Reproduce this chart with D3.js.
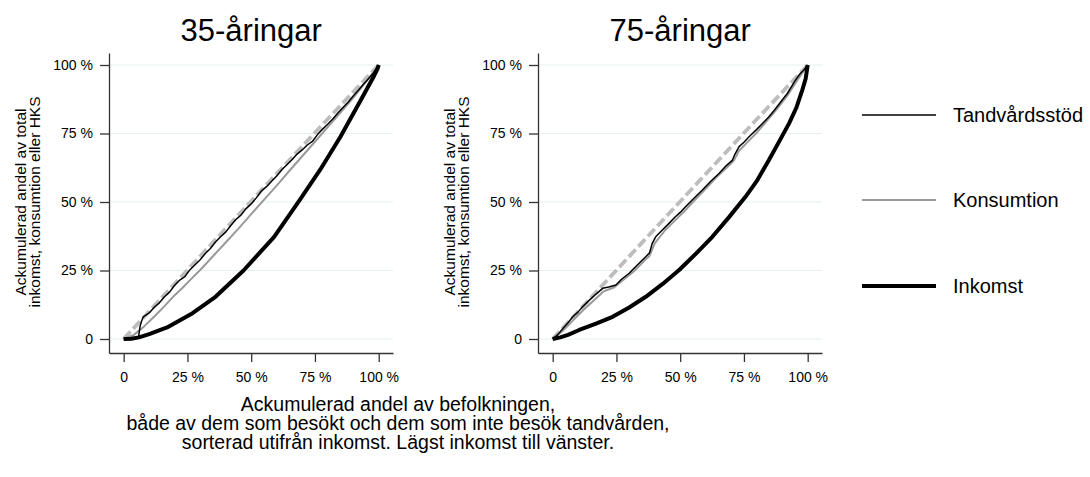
<!DOCTYPE html>
<html>
<head>
<meta charset="utf-8">
<script src="https://cdn.jsdelivr.net/npm/d3@7"></script>
<style>
  body { margin: 0; background: #fff; }
  svg { display: block; font-family: "Liberation Sans", Arial, sans-serif; }
</style>
</head>
<body>
<svg id="chart" width="1090" height="477"></svg>
<script>
// Lorenz-type curves: cumulative share of population (x, %) vs cumulative share (y, %)
const panelTitles = ["35-åringar", "75-åringar"];
const tickValues = [0, 25, 50, 75, 100];
const tickLabels = ["0", "25 %", "50 %", "75 %", "100 %"];
const legendLabels = ["Tandvårdsstöd", "Konsumtion", "Inkomst"];
const yTitleLines = ["Ackumulerad andel av total", "inkomst, konsumtion eller HKS"];
const xTitleLines = [
  "Ackumulerad andel av befolkningen,",
  "både av dem som besökt och dem som inte besök tandvården,",
  "sorterad utifrån inkomst. Lägst inkomst till vänster."
];

// HKS (dashed)
const hksX35 = [0, 25, 50, 75, 100];
const hksY35 = [0, 25.2, 50.3, 75.3, 100];
const hksX75 = [0, 25, 50, 75, 100];
const hksY75 = [0, 25.1, 50.2, 75.2, 100];

// Tandvårdsstöd, 35-åringar
const dentalX35 = [0, 2, 5, 5.8, 6.4, 7, 7.7, 10, 12, 14, 16, 18, 20, 22, 24, 26, 28, 30, 32, 34, 36, 38, 40, 42, 44, 46, 48, 50, 52, 54, 56, 58, 60, 62, 64, 66, 68, 70, 72, 74, 76, 78, 80, 82, 84, 86, 88, 90, 92, 94, 96, 98, 100];
const dentalY35 = [0, 0.1, 0.3, 0.6, 4.5, 6.5, 8.1, 9.5, 11.6, 13.2, 15.4, 17.1, 19.6, 21.5, 22.8, 25.3, 27.1, 28.9, 31.2, 33.0, 35.4, 37.3, 39.0, 41.4, 43.6, 45.2, 47.6, 49.3, 51.5, 54.0, 55.6, 57.6, 59.5, 61.8, 63.6, 65.4, 67.5, 69.0, 70.8, 72.1, 74.6, 76.6, 78.4, 80.3, 82.5, 84.5, 86.4, 88.7, 90.8, 93.0, 95.0, 97.2, 100];

// Konsumtion, 35-åringar
const consX35 = [0, 4, 8, 12, 16, 20, 23, 26, 30, 35, 40, 45, 50, 55, 60, 65, 70, 75, 80, 85, 90, 95, 100];
const consY35 = [0, 1.5, 4.6, 8.2, 12.0, 16.0, 18.6, 21.5, 25.2, 30.2, 35.2, 40.3, 45.6, 50.8, 56.0, 61.4, 66.7, 72.0, 77.3, 82.6, 88.0, 93.8, 100];

// Inkomst, 35-åringar
const incX35 = [0, 3, 6, 10, 17, 27, 36, 47, 59, 69, 77, 85, 93, 98, 99.6, 100];
const incY35 = [0, 0.1, 0.6, 1.8, 4.2, 9.4, 15.4, 25.0, 37.3, 50.7, 61.7, 73.8, 87.2, 95.7, 98.8, 100];

// Tandvårdsstöd, 75-åringar
const dentalX75 = [0, 2, 4, 6, 7.9, 10, 12, 14.4, 17, 19.6, 22, 24.8, 27, 30, 33, 36.5, 38, 39, 40.4, 43, 45.6, 48, 50, 52.1, 55, 58.7, 62, 65.3, 68, 70.5, 71.5, 73.1, 75, 77, 80, 82, 84.8, 87, 90, 92, 95.2, 97, 98.5, 100];
const dentalY75 = [0, 1.6, 3.8, 5.9, 8.1, 9.9, 12.0, 14.2, 16.4, 18.5, 19.0, 19.7, 21.8, 24.0, 26.8, 30.0, 31.5, 34.8, 37.3, 39.8, 42.2, 44.5, 46.2, 48.3, 51.0, 54.4, 57.6, 60.5, 63.2, 65.3, 67.5, 70.2, 71.8, 73.8, 76.5, 78.4, 81.1, 83.6, 87.2, 89.6, 94.5, 96.8, 98.2, 100];

// Konsumtion, 75-åringar
const consX75 = [0, 4, 8, 12, 16, 20, 24, 28, 32, 36, 38, 40, 44, 48, 52, 56, 60, 64, 68, 71, 73, 76, 80, 84, 88, 92, 96, 100];
const consY75 = [0, 3.0, 6.8, 10.6, 14.0, 17.4, 18.8, 21.8, 24.8, 28.6, 30.4, 34.9, 39.6, 43.3, 47.0, 51.0, 54.8, 58.8, 62.3, 65.0, 68.6, 71.5, 75.3, 79.6, 84.0, 88.8, 94.5, 100];

// Inkomst, 75-åringar
const incX75 = [0, 3, 6, 10.4, 17, 23.5, 30, 36.5, 43, 49.6, 56, 62.6, 69, 75.6, 80, 84.8, 89, 92.7, 95.5, 97.9, 99.2, 100];
const incY75 = [0, 0.6, 1.5, 3.3, 5.6, 8.1, 11.5, 15.4, 20.0, 25.2, 31.0, 37.3, 44.3, 51.9, 57.6, 65.3, 72.4, 78.7, 84.3, 90.9, 95.0, 100];

const zip = (xs, ys) => xs.map((x, i) => [x, ys[i]]);

const panels = [
  { title: panelTitles[0], left: 109,
    hks: zip(hksX35, hksY35), cons: zip(consX35, consY35),
    dental: zip(dentalX35, dentalY35), inc: zip(incX35, incY35) },
  { title: panelTitles[1], left: 538,
    hks: zip(hksX75, hksY75), cons: zip(consX75, consY75),
    dental: zip(dentalX75, dentalY75), inc: zip(incX75, incY75) }
];

const styles = {
  hks:    { stroke: "#bdbdbd", width: 3.8, dash: "10,4" },
  cons:   { stroke: "#999999", width: 2,   dash: null },
  dental: { stroke: "#000000", width: 1.5, dash: null },
  inc:    { stroke: "#000000", width: 4,   dash: null }
};

const svg = d3.select("#chart");
svg.append("rect").attr("width", 1090).attr("height", 477).attr("fill", "#fff");

const boxW = 284, boxTop = 53, boxBottom = 353;
const fmt = d => tickLabels[tickValues.indexOf(d)];

panels.forEach(p => {
  const x = d3.scaleLinear().domain([-5.76, 105.61]).range([p.left, p.left + boxW]);
  const y = d3.scaleLinear().domain([-5.11, 104.38]).range([boxBottom, boxTop]);
  const g = svg.append("g");

  // horizontal grid
  g.append("g").selectAll("line").data(tickValues).join("line")
    .attr("x1", p.left).attr("x2", p.left + boxW)
    .attr("y1", d => y(d)).attr("y2", d => y(d))
    .attr("stroke", "#e6eff1").attr("stroke-width", 1.2);

  // axes
  const yAxis = g.append("g").attr("transform", `translate(${p.left},0)`)
    .call(d3.axisLeft(y).tickValues(tickValues).tickFormat(fmt).tickSize(9).tickSizeOuter(0).tickPadding(7));
  const xAxis = g.append("g").attr("transform", `translate(0,${boxBottom})`)
    .call(d3.axisBottom(x).tickValues(tickValues).tickFormat(fmt).tickSize(9).tickSizeOuter(0).tickPadding(10));
  [yAxis, xAxis].forEach(a => {
    a.selectAll("path, line").attr("stroke", "#333").attr("stroke-width", 1.3);
    a.selectAll("text").attr("font-size", 14).attr("fill", "#000")
      .attr("font-family", '"Liberation Sans", Arial, sans-serif');
  });

  // curves
  const line = d3.line().x(d => x(d[0])).y(d => y(d[1]));
  ["hks", "cons", "dental", "inc"].forEach(k => {
    const s = styles[k];
    g.append("path").datum(p[k]).attr("d", line)
      .attr("fill", "none").attr("stroke", s.stroke).attr("stroke-width", s.width)
      .attr("stroke-dasharray", s.dash).attr("stroke-linejoin", "round");
  });

  // panel title
  g.append("text").attr("x", (x(0) + x(100)) / 2).attr("y", 41)
    .attr("text-anchor", "middle").attr("font-size", 31).text(p.title);

  // y axis title
  const yt = g.append("text")
    .attr("transform", `translate(${p.left - 83},${(y(0) + y(100)) / 2}) rotate(-90)`)
    .attr("text-anchor", "middle").attr("font-size", 15.5);
  yTitleLines.forEach((t, i) => yt.append("tspan").attr("x", 0).attr("dy", i ? 14 : 0).text(t));
});

// shared x axis title
const xt = svg.append("text").attr("text-anchor", "middle").attr("font-size", 19.5);
xTitleLines.forEach((t, i) => xt.append("tspan").attr("x", 398).attr("y", 411 + i * 19).text(t));

// legend
const legendY = [115, 200, 286];
const legendKeys = ["dental", "cons", "inc"];
legendKeys.forEach((k, i) => {
  const s = styles[k];
  svg.append("line").attr("x1", 862).attr("x2", 936)
    .attr("y1", legendY[i]).attr("y2", legendY[i])
    .attr("stroke", s.stroke).attr("stroke-width", k === "inc" ? 4 : (k === "cons" ? 2 : 1.6));
  svg.append("text").attr("x", 953).attr("y", legendY[i]).attr("dy", "0.35em")
    .attr("font-size", 20).text(legendLabels[i]);
});
</script>
</body>
</html>
